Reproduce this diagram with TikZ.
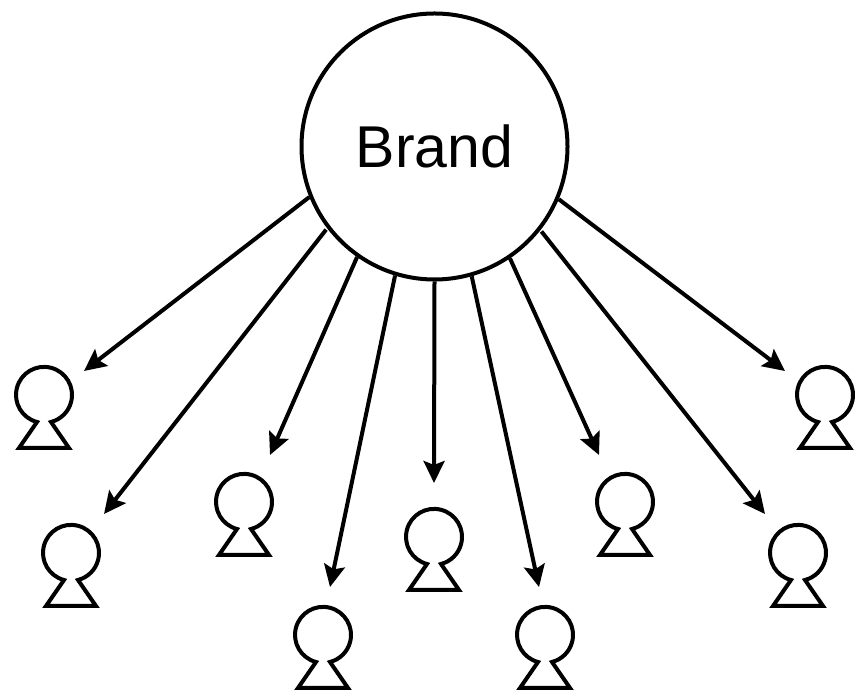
\documentclass[tikz,border=0pt]{standalone}
\usepackage{fontspec}
\setmainfont{Liberation Sans}
\usetikzlibrary{arrows.meta}
\tikzset{
  x=1pt,y=1pt,
  ink/.style={line width=4pt,draw=black,miter limit=10},
  brandnode/.style={circle,ink,minimum size=266pt,inner sep=0pt,font=\fontsize{59}{70}\selectfont},
  link/.style={ink,-{Stealth[length=22pt,width=21pt,inset=4pt]}},
  person/.pic={
    \coordinate (-head) at (0,0);
    \draw[ink] (-7,-27) arc[start angle=255.5,end angle=-75.5,radius=28] -- (25,-53) -- (-25,-53) -- cycle;
  }
}
\begin{document}
\begin{tikzpicture}
\useasboundingbox (0,0) rectangle (859,693);
\node[brandnode] (brand) at (434.5,546.5) {Brand};
\pic (p1) at (44,298) {person};
\pic (p2) at (71,140) {person};
\pic (p3) at (244,191) {person};
\pic (p4) at (323,58) {person};
\pic (p5) at (434,156) {person};
\pic (p6) at (545,58) {person};
\pic (p7) at (625,191) {person};
\pic (p8) at (798,140) {person};
\pic (p9) at (825,298) {person};
\coordinate (t1) at (84,322);
\coordinate (t2) at (104,179);
\coordinate (t3) at (270,238);
\coordinate (t4) at (330,106);
\coordinate (t5) at (434,210);
\coordinate (t6) at (539,106);
\coordinate (t7) at (599,238);
\coordinate (t8) at (765,179);
\coordinate (t9) at (785,322);
\draw[link] (brand.202.4) -- (t1);
\draw[link] ([xshift=-2pt]brand.218.5) -- (t2);
\draw[link] (brand.235.5) -- (t3);
\draw[link] (brand.253.2) -- (t4);
\draw[link] (brand.270) -- (t5);
\draw[link] (brand.286.8) -- (t6);
\draw[link] (brand.304.5) -- (t7);
\draw[link] ([xshift=2pt]brand.321.5) -- (t8);
\draw[link] (brand.337.6) -- (t9);
\end{tikzpicture}
\end{document}
